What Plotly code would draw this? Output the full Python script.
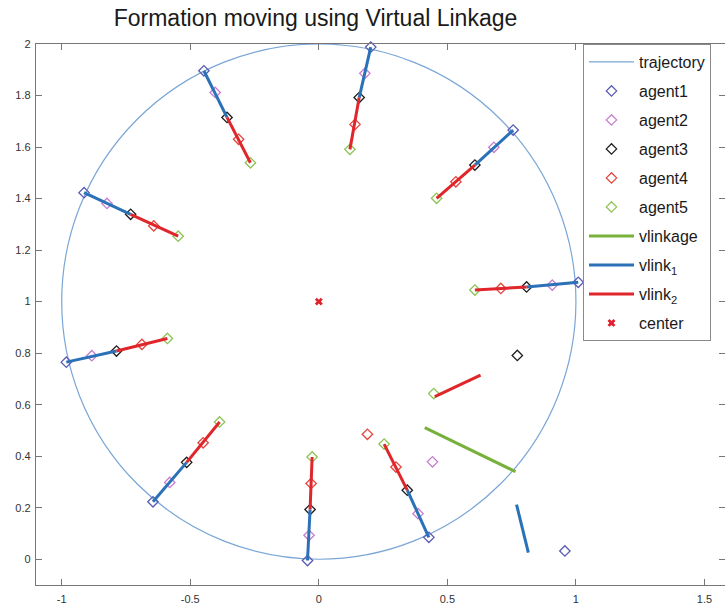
import plotly.graph_objects as go

# Agent positions (x, y) at nine sampled instants around the circle,
# followed by the latest instant where the formation is being rebuilt.
agent1_x = [0.202, 0.756, 1.009, 0.428, -0.044, -0.645, -0.982, -0.913, -0.447, 0.957]
agent1_y = [1.988, 1.666, 1.075, 0.085, -0.005, 0.223, 0.765, 1.423, 1.896, 0.032]
agent2_x = [0.179, 0.681, 0.908, 0.386, -0.038, -0.580, -0.883, -0.824, -0.403, 0.442]
agent2_y = [1.886, 1.599, 1.064, 0.177, 0.093, 0.298, 0.790, 1.381, 1.812, 0.378]
agent3_x = [0.157, 0.607, 0.808, 0.344, -0.034, -0.514, -0.787, -0.732, -0.357, 0.772]
agent3_y = [1.792, 1.530, 1.057, 0.268, 0.193, 0.376, 0.808, 1.339, 1.715, 0.791]
agent4_x = [0.141, 0.533, 0.708, 0.300, -0.030, -0.450, -0.688, -0.642, -0.312, 0.189]
agent4_y = [1.688, 1.465, 1.051, 0.358, 0.294, 0.452, 0.834, 1.294, 1.630, 0.485]
agent5_x = [0.121, 0.458, 0.607, 0.254, -0.026, -0.386, -0.589, -0.547, -0.266, 0.447]
agent5_y = [1.591, 1.401, 1.045, 0.447, 0.397, 0.533, 0.857, 1.254, 1.539, 0.643]

# Number of snapshots in which the formation is complete
n_formed = 9

# Virtual links at the latest instant (endpoints)
vlinkage_x = [0.412, 0.765]
vlinkage_y = [0.511, 0.340]
vlink1_now_x = [0.769, 0.815]
vlink1_now_y = [0.212, 0.026]
vlink2_now_x = [0.451, 0.629]
vlink2_now_y = [0.631, 0.715]

# Reference trajectory: circle
traj_center = (0.0, 1.0)
traj_radius = 1.0

center_x = [0.0]
center_y = [1.0]

x_ticks = [-1, -0.5, 0, 0.5, 1, 1.5]
x_tick_text = ["-1", "-0.5", "0", "0.5", "1", "1.5"]
y_ticks = [0, 0.2, 0.4, 0.6, 0.8, 1, 1.2, 1.4, 1.6, 1.8, 2]
y_tick_text = ["0", "0.2", "0.4", "0.6", "0.8", "1", "1.2", "1.4", "1.6", "1.8", "2"]

FONT = "Liberation Sans, Arial, Helvetica, sans-serif"
TRAJ_COLOR = "#7aa6d6"
AGENT_COLORS = ["#5a5ab4", "#c77ccf", "#1e1e1e", "#e2463f", "#8cc454"]
VLINKAGE_COLOR = "#77b03a"
VLINK1_COLOR = "#2a71b8"
VLINK2_COLOR = "#e0262a"


def segments(xa, ya, xb, yb, extra_x, extra_y):
    xs, ys = [], []
    for i in range(n_formed):
        xs += [xa[i], xb[i], None]
        ys += [ya[i], yb[i], None]
    xs += list(extra_x)
    ys += list(extra_y)
    return xs, ys


fig = go.Figure()

# trajectory (legend entry; the circle itself is a layout shape)
fig.add_trace(go.Scatter(
    x=[None], y=[None], mode="lines", name="trajectory",
    line=dict(color=TRAJ_COLOR, width=1.2), legendgroup="traj",
))

agents = [(agent1_x, agent1_y), (agent2_x, agent2_y), (agent3_x, agent3_y),
          (agent4_x, agent4_y), (agent5_x, agent5_y)]
for k, (ax, ay) in enumerate(agents):
    fig.add_trace(go.Scatter(
        x=ax, y=ay, mode="markers", name=f"agent{k + 1}",
        marker=dict(symbol="diamond-open", size=8, color=AGENT_COLORS[k],
                    line=dict(width=1.3, color=AGENT_COLORS[k])),
        cliponaxis=False, legendgroup=f"agent{k + 1}",
    ))

fig.add_trace(go.Scatter(
    x=vlinkage_x, y=vlinkage_y, mode="lines", name="vlinkage",
    line=dict(color=VLINKAGE_COLOR, width=3), legendgroup="vlinkage",
))

v1x, v1y = segments(agent1_x, agent1_y, agent3_x, agent3_y, vlink1_now_x, vlink1_now_y)
fig.add_trace(go.Scatter(
    x=v1x, y=v1y, mode="lines", name="vlink<sub>1</sub>",
    line=dict(color=VLINK1_COLOR, width=3), legendgroup="vlink1",
))

v2x, v2y = segments(agent3_x, agent3_y, agent5_x, agent5_y, vlink2_now_x, vlink2_now_y)
fig.add_trace(go.Scatter(
    x=v2x, y=v2y, mode="lines", name="vlink<sub>2</sub>",
    line=dict(color=VLINK2_COLOR, width=3), legendgroup="vlink2",
))

fig.add_trace(go.Scatter(
    x=center_x, y=center_y, mode="markers", name="center",
    marker=dict(symbol="x", size=7, color="#e0202a"),
    legendgroup="center",
))

cx, cy = traj_center
fig.add_shape(
    type="circle", xref="x", yref="y",
    x0=cx - traj_radius, x1=cx + traj_radius,
    y0=cy - traj_radius, y1=cy + traj_radius,
    line=dict(color=TRAJ_COLOR, width=1.2), layer="below",
)

axis_style = dict(
    showgrid=False, zeroline=False, showline=True, linecolor="#777777",
    linewidth=1.3, mirror="ticks", ticks="inside", ticklen=6,
    tickcolor="#777777", tickwidth=1.2,
    tickfont=dict(family=FONT, size=11, color="#333333"),
)

fig.update_xaxes(range=[-1.1, 1.5798], tickvals=x_ticks, ticktext=x_tick_text,
                 ticklabelstandoff=4, **axis_style)
fig.update_yaxes(range=[-0.1, 2.0], tickvals=y_ticks, ticktext=y_tick_text,
                 ticklabelstandoff=2, **axis_style)

fig.update_layout(
    width=725, height=609,
    margin=dict(l=36, r=0, t=44, b=24, autoexpand=False),
    paper_bgcolor="white", plot_bgcolor="white",
    title=dict(
        text="Formation moving using Virtual Linkage",
        x=315.5 / 725, xref="container", xanchor="center",
        y=1 - 18 / 609, yref="container", yanchor="middle",
        font=dict(family=FONT, size=23, color="#1a1a1a"),
    ),
    legend=dict(
        x=(583 - 36) / 689, y=1, xanchor="left", yanchor="top",
        bgcolor="white", bordercolor="#8a8a8a", borderwidth=1,
        font=dict(family=FONT, size=16, color="#1a1a1a"),
        tracegroupgap=5.2, itemwidth=45, traceorder="grouped",
    ),
    showlegend=True,
)

fig.write_html("out.html")
